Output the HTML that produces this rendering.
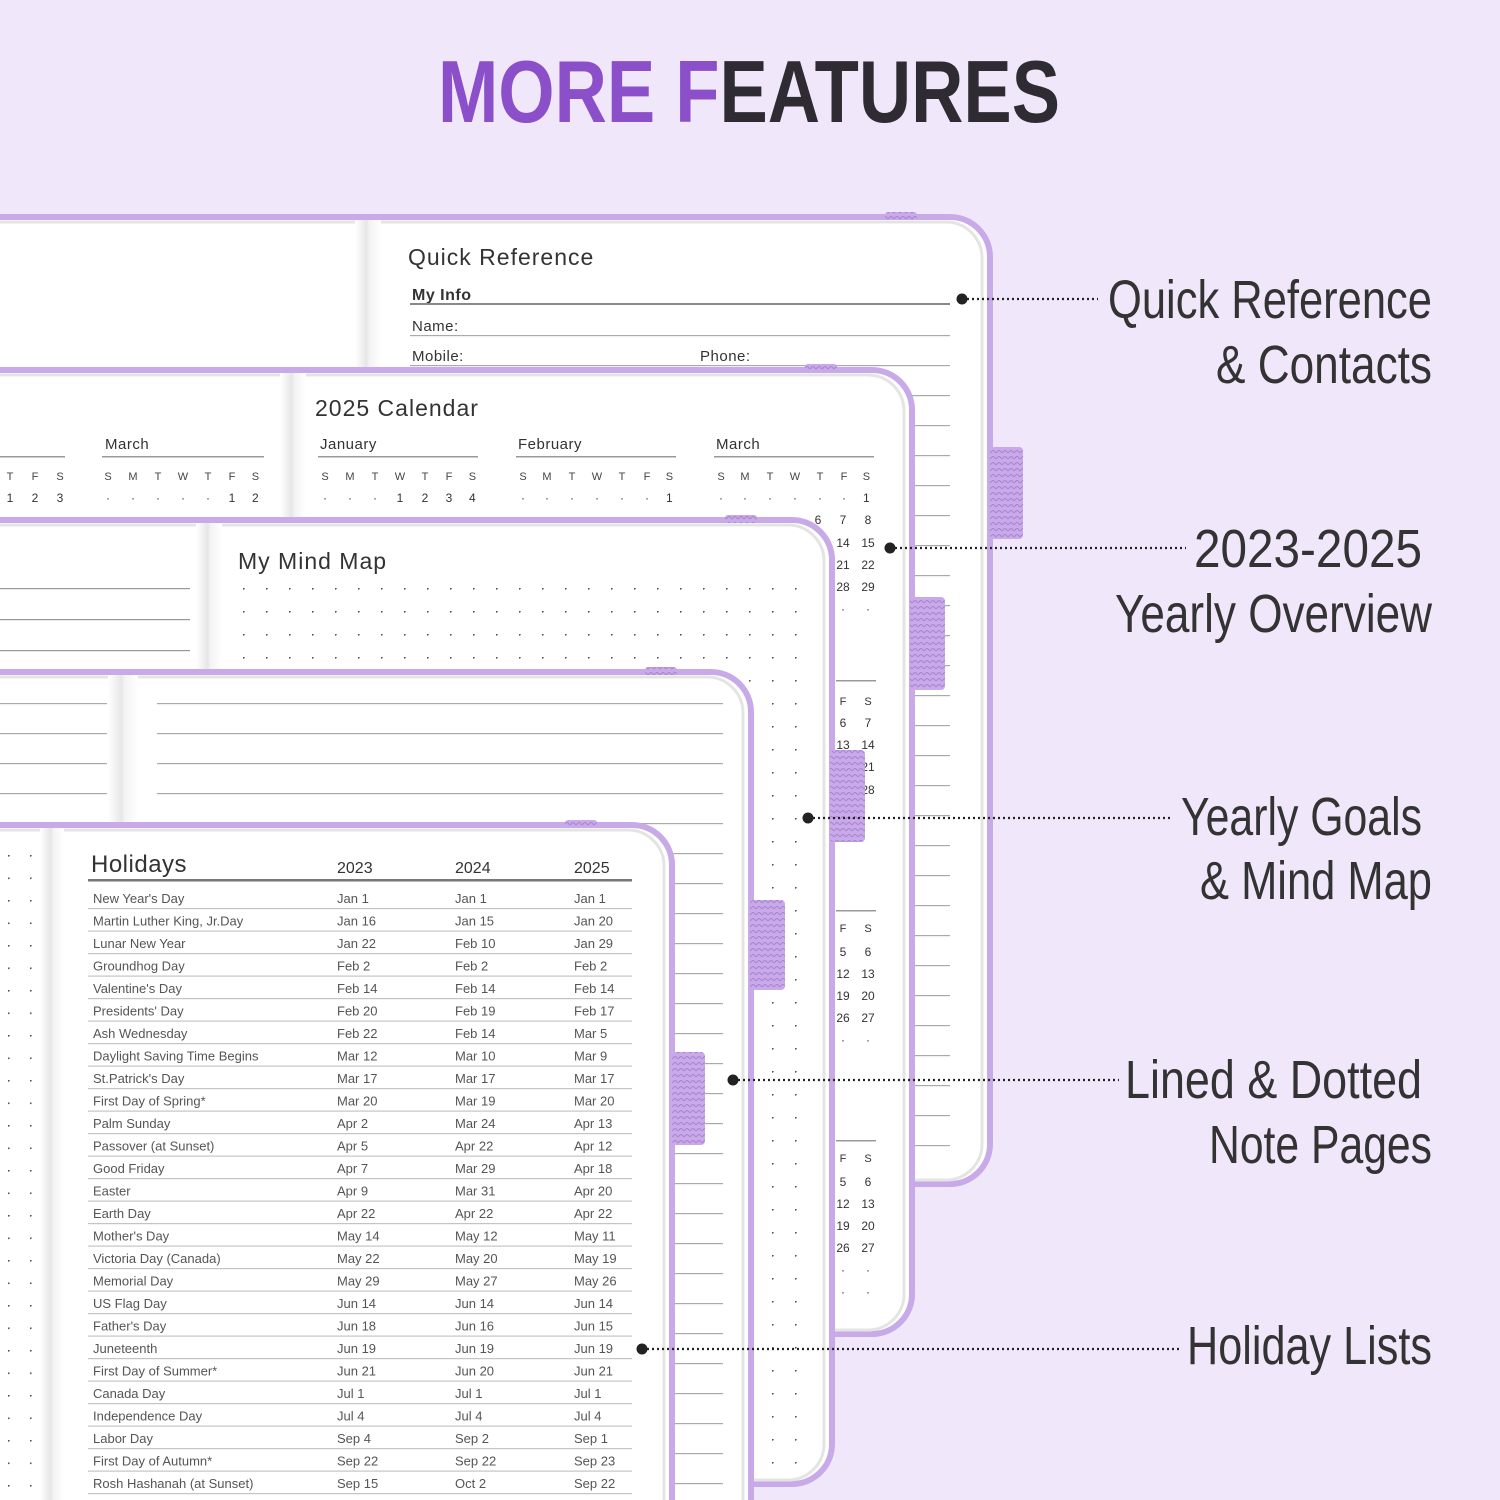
<!DOCTYPE html>
<html><head><meta charset="utf-8"><style>
html,body{margin:0;padding:0;background:#f1e7fa;width:1500px;height:1500px;overflow:hidden;}
svg{display:block;overflow:hidden}
text{font-family:"Liberation Sans",sans-serif;}
</style></head><body>
<svg width="1500" height="1500" viewBox="0 0 1500 1500" xmlns="http://www.w3.org/2000/svg">
<defs>
<pattern id="dots" x="243" y="588" width="23" height="23" patternUnits="userSpaceOnUse"><circle cx="0.5" cy="0.5" r="1.2" fill="#555"/></pattern>
<pattern id="dots5" x="8" y="855" width="22" height="22.5" patternUnits="userSpaceOnUse"><circle cx="0.5" cy="0.5" r="1.2" fill="#555"/></pattern>
<pattern id="lines30" x="0" y="335" width="10" height="30" patternUnits="userSpaceOnUse"><rect x="0" y="0" width="10" height="1.2" fill="#aaa"/></pattern>
<pattern id="lines4" x="0" y="703" width="10" height="30" patternUnits="userSpaceOnUse"><rect x="0" y="0" width="10" height="1.2" fill="#aaa"/></pattern>
<pattern id="knit" width="6" height="6" patternUnits="userSpaceOnUse"><rect width="6" height="6" fill="#c9a9e8"/><path d="M0 3 L3 0 L6 3" stroke="#a884d2" stroke-width="1" fill="none"/></pattern>
<linearGradient id="spine" x1="0" x2="1" y1="0" y2="0"><stop offset="0" stop-color="#fff"/><stop offset="0.45" stop-color="#e6e6e6"/><stop offset="0.55" stop-color="#f3f3f3"/><stop offset="1" stop-color="#fff"/></linearGradient>
</defs>

<text x="438" y="122" font-size="88" font-weight="bold" textLength="622" lengthAdjust="spacingAndGlyphs"><tspan fill="#8a4fc9">MORE F</tspan><tspan fill="#2f2b33">EATURES</tspan></text>

<rect x="-40" y="217" width="1030" height="967" rx="40" fill="#fff" stroke="#c8aae8" stroke-width="6"/>
<rect x="-40" y="222" width="1022" height="958" rx="36" fill="none" stroke="#e4e4e4" stroke-width="3"/>
<rect x="355" y="220" width="26" height="150" fill="url(#spine)"/>
<rect x="885" y="212" width="32" height="8" rx="3" fill="url(#knit)"/>
<text x="408" y="265" font-size="23" fill="#333" letter-spacing="1">Quick Reference</text>
<text x="412" y="300" font-size="16" font-weight="bold" fill="#333" letter-spacing="0.5">My Info</text>
<rect x="410" y="303" width="540" height="2" fill="#888"/>
<text x="412" y="331" font-size="15" fill="#333" letter-spacing="0.5">Name:</text>
<text x="412" y="361" font-size="15" fill="#333" letter-spacing="0.5">Mobile:</text>
<text x="700" y="361" font-size="15" fill="#333" letter-spacing="0.5">Phone:</text>
<rect x="410" y="335" width="540" height="840" fill="url(#lines30)"/>
<rect x="990" y="447" width="33" height="92" rx="4" fill="url(#knit)"/>

<rect x="-40" y="370" width="952" height="964" rx="40" fill="#fff" stroke="#c8aae8" stroke-width="6"/>
<rect x="-40" y="375" width="944" height="955" rx="36" fill="none" stroke="#e4e4e4" stroke-width="3"/>
<rect x="280" y="373" width="26" height="150" fill="url(#spine)"/>
<rect x="805" y="364" width="32" height="8" rx="3" fill="url(#knit)"/>
<g fill="#333">
<text x="315" y="416" font-size="23" letter-spacing="1">2025 Calendar</text>
<text x="320" y="449" font-size="15" letter-spacing="0.5">January</text>
<text x="518" y="449" font-size="15" letter-spacing="0.5">February</text>
<text x="716" y="449" font-size="15" letter-spacing="0.5">March</text>
<text x="105" y="449" font-size="15" letter-spacing="0.5">March</text>
</g>
<g fill="#999"><rect x="318" y="456" width="160" height="1.5"/><rect x="516" y="456" width="160" height="1.5"/><rect x="714" y="456" width="160" height="1.5"/><rect x="102" y="456" width="162" height="1.5"/><rect x="0" y="456" width="65" height="1.5"/>
<rect x="836" y="680" width="40" height="1.5"/><rect x="836" y="910" width="40" height="1.5"/><rect x="836" y="1140" width="40" height="1.5"/></g>
<g font-size="11" fill="#444" text-anchor="middle">
<text y="480"><tspan x="325">S</tspan><tspan x="350">M</tspan><tspan x="375">T</tspan><tspan x="400">W</tspan><tspan x="425">T</tspan><tspan x="449">F</tspan><tspan x="474">S</tspan>
<tspan x="523">S</tspan><tspan x="547">M</tspan><tspan x="572">T</tspan><tspan x="597">W</tspan><tspan x="622">T</tspan><tspan x="647">F</tspan><tspan x="671">S</tspan>
<tspan x="721">S</tspan><tspan x="745">M</tspan><tspan x="770">T</tspan><tspan x="795">W</tspan><tspan x="820">T</tspan><tspan x="844">F</tspan><tspan x="868">S</tspan>
<tspan x="108">S</tspan><tspan x="133">M</tspan><tspan x="158">T</tspan><tspan x="183">W</tspan><tspan x="208">T</tspan><tspan x="232">F</tspan><tspan x="257">S</tspan>
<tspan x="10">T</tspan><tspan x="35">F</tspan><tspan x="60">S</tspan></text>
</g>
<g font-size="12" fill="#333" text-anchor="middle">
<text y="502"><tspan x="325">·</tspan><tspan x="350">·</tspan><tspan x="375">·</tspan><tspan x="400">1</tspan><tspan x="425">2</tspan><tspan x="449">3</tspan><tspan x="474">4</tspan>
<tspan x="523">·</tspan><tspan x="547">·</tspan><tspan x="572">·</tspan><tspan x="597">·</tspan><tspan x="622">·</tspan><tspan x="647">·</tspan><tspan x="671">1</tspan>
<tspan x="721">·</tspan><tspan x="745">·</tspan><tspan x="770">·</tspan><tspan x="795">·</tspan><tspan x="820">·</tspan><tspan x="844">·</tspan><tspan x="868">1</tspan>
<tspan x="108">·</tspan><tspan x="133">·</tspan><tspan x="158">·</tspan><tspan x="183">·</tspan><tspan x="208">·</tspan><tspan x="232">1</tspan><tspan x="257">2</tspan>
<tspan x="10">1</tspan><tspan x="35">2</tspan><tspan x="60">3</tspan></text>
<text y="524"><tspan x="818">6</tspan><tspan x="843">7</tspan><tspan x="868">8</tspan></text>
<text y="547"><tspan x="843">14</tspan><tspan x="868">15</tspan></text>
<text y="569"><tspan x="843">21</tspan><tspan x="868">22</tspan></text>
<text y="591"><tspan x="843">28</tspan><tspan x="868">29</tspan></text>
<text y="613"><tspan x="843">·</tspan><tspan x="868">·</tspan></text>
<text y="705" font-size="11"><tspan x="843">F</tspan><tspan x="868">S</tspan></text>
<text y="727"><tspan x="843">6</tspan><tspan x="868">7</tspan></text>
<text y="749"><tspan x="843">13</tspan><tspan x="868">14</tspan></text>
<text y="771"><tspan x="843">20</tspan><tspan x="868">21</tspan></text>
<text y="794"><tspan x="843">27</tspan><tspan x="868">28</tspan></text>
<text y="932" font-size="11"><tspan x="843">F</tspan><tspan x="868">S</tspan></text>
<text y="956"><tspan x="843">5</tspan><tspan x="868">6</tspan></text>
<text y="978"><tspan x="843">12</tspan><tspan x="868">13</tspan></text>
<text y="1000"><tspan x="843">19</tspan><tspan x="868">20</tspan></text>
<text y="1022"><tspan x="843">26</tspan><tspan x="868">27</tspan></text>
<text y="1044"><tspan x="843">·</tspan><tspan x="868">·</tspan></text>
<text y="1162" font-size="11"><tspan x="843">F</tspan><tspan x="868">S</tspan></text>
<text y="1186"><tspan x="843">5</tspan><tspan x="868">6</tspan></text>
<text y="1208"><tspan x="843">12</tspan><tspan x="868">13</tspan></text>
<text y="1230"><tspan x="843">19</tspan><tspan x="868">20</tspan></text>
<text y="1252"><tspan x="843">26</tspan><tspan x="868">27</tspan></text>
<text y="1274"><tspan x="843">·</tspan><tspan x="868">·</tspan></text>
<text y="1296"><tspan x="843">·</tspan><tspan x="868">·</tspan></text>
</g>
<rect x="910" y="597" width="35" height="93" rx="4" fill="url(#knit)"/>

<rect x="-40" y="520" width="872" height="964" rx="40" fill="#fff" stroke="#c8aae8" stroke-width="6"/>
<rect x="-40" y="525" width="864" height="955" rx="36" fill="none" stroke="#e4e4e4" stroke-width="3"/>
<rect x="196" y="523" width="26" height="150" fill="url(#spine)"/>
<rect x="725" y="515" width="32" height="8" rx="3" fill="url(#knit)"/>
<text x="238" y="569" font-size="23" fill="#333" letter-spacing="1">My Mind Map</text>
<rect x="241" y="586" width="560" height="890" fill="url(#dots)"/>
<g fill="#999"><rect x="0" y="588" width="190" height="1.2"/><rect x="0" y="619" width="190" height="1.2"/><rect x="0" y="650" width="190" height="1.2"/></g>
<rect x="830" y="750" width="35" height="92" rx="4" fill="url(#knit)"/>

<rect x="-40" y="672" width="791" height="900" rx="40" fill="#fff" stroke="#c8aae8" stroke-width="6"/>
<rect x="-40" y="677" width="783" height="900" rx="36" fill="none" stroke="#e4e4e4" stroke-width="3"/>
<rect x="108" y="675" width="30" height="155" fill="url(#spine)"/>
<rect x="645" y="667" width="32" height="8" rx="3" fill="url(#knit)"/>
<rect x="157" y="703" width="566" height="797" fill="url(#lines4)"/>
<rect x="0" y="703" width="107" height="100" fill="url(#lines4)"/>
<rect x="750" y="900" width="35" height="90" rx="4" fill="url(#knit)"/>

<rect x="-40" y="825" width="712" height="800" rx="40" fill="#fff" stroke="#c8aae8" stroke-width="6"/>
<rect x="-40" y="830" width="704" height="800" rx="36" fill="none" stroke="#e4e4e4" stroke-width="3"/>
<rect x="40" y="828" width="24" height="672" fill="url(#spine)"/>
<rect x="565" y="820" width="32" height="8" rx="3" fill="url(#knit)"/>
<rect x="6" y="853" width="30" height="647" fill="url(#dots5)"/>
<text x="91" y="872" font-size="24" fill="#333" letter-spacing="0.5">Holidays</text>
<g font-size="16" fill="#333"><text x="337" y="873">2023</text><text x="455" y="873">2024</text><text x="574" y="873">2025</text></g>
<rect x="88" y="879" width="544" height="2.5" fill="#777"/>
<g fill="#c4c4c4">
<rect x="88" y="908" width="544" height="1.2"/><rect x="88" y="930.5" width="544" height="1.2"/><rect x="88" y="953" width="544" height="1.2"/><rect x="88" y="975.5" width="544" height="1.2"/><rect x="88" y="998" width="544" height="1.2"/><rect x="88" y="1020.5" width="544" height="1.2"/><rect x="88" y="1043" width="544" height="1.2"/><rect x="88" y="1065.5" width="544" height="1.2"/><rect x="88" y="1088" width="544" height="1.2"/><rect x="88" y="1110.5" width="544" height="1.2"/><rect x="88" y="1133" width="544" height="1.2"/><rect x="88" y="1155.5" width="544" height="1.2"/><rect x="88" y="1178" width="544" height="1.2"/><rect x="88" y="1200.5" width="544" height="1.2"/><rect x="88" y="1223" width="544" height="1.2"/><rect x="88" y="1245.5" width="544" height="1.2"/><rect x="88" y="1268" width="544" height="1.2"/><rect x="88" y="1290.5" width="544" height="1.2"/><rect x="88" y="1313" width="544" height="1.2"/><rect x="88" y="1335.5" width="544" height="1.2"/><rect x="88" y="1358" width="544" height="1.2"/><rect x="88" y="1380.5" width="544" height="1.2"/><rect x="88" y="1403" width="544" height="1.2"/><rect x="88" y="1425.5" width="544" height="1.2"/><rect x="88" y="1448" width="544" height="1.2"/><rect x="88" y="1470.5" width="544" height="1.2"/><rect x="88" y="1493" width="544" height="1.2"/>
</g>
<g font-size="13" fill="#555">
<text y="903"><tspan x="93">New Year's Day</tspan><tspan x="337">Jan 1</tspan><tspan x="455">Jan 1</tspan><tspan x="574">Jan 1</tspan></text>
<text y="925.5"><tspan x="93">Martin Luther King, Jr.Day</tspan><tspan x="337">Jan 16</tspan><tspan x="455">Jan 15</tspan><tspan x="574">Jan 20</tspan></text>
<text y="948"><tspan x="93">Lunar New Year</tspan><tspan x="337">Jan 22</tspan><tspan x="455">Feb 10</tspan><tspan x="574">Jan 29</tspan></text>
<text y="970.5"><tspan x="93">Groundhog Day</tspan><tspan x="337">Feb 2</tspan><tspan x="455">Feb 2</tspan><tspan x="574">Feb 2</tspan></text>
<text y="993"><tspan x="93">Valentine's Day</tspan><tspan x="337">Feb 14</tspan><tspan x="455">Feb 14</tspan><tspan x="574">Feb 14</tspan></text>
<text y="1015.5"><tspan x="93">Presidents' Day</tspan><tspan x="337">Feb 20</tspan><tspan x="455">Feb 19</tspan><tspan x="574">Feb 17</tspan></text>
<text y="1038"><tspan x="93">Ash Wednesday</tspan><tspan x="337">Feb 22</tspan><tspan x="455">Feb 14</tspan><tspan x="574">Mar 5</tspan></text>
<text y="1060.5"><tspan x="93">Daylight Saving Time Begins</tspan><tspan x="337">Mar 12</tspan><tspan x="455">Mar 10</tspan><tspan x="574">Mar 9</tspan></text>
<text y="1083"><tspan x="93">St.Patrick's Day</tspan><tspan x="337">Mar 17</tspan><tspan x="455">Mar 17</tspan><tspan x="574">Mar 17</tspan></text>
<text y="1105.5"><tspan x="93">First Day of Spring*</tspan><tspan x="337">Mar 20</tspan><tspan x="455">Mar 19</tspan><tspan x="574">Mar 20</tspan></text>
<text y="1128"><tspan x="93">Palm Sunday</tspan><tspan x="337">Apr 2</tspan><tspan x="455">Mar 24</tspan><tspan x="574">Apr 13</tspan></text>
<text y="1150.5"><tspan x="93">Passover (at Sunset)</tspan><tspan x="337">Apr 5</tspan><tspan x="455">Apr 22</tspan><tspan x="574">Apr 12</tspan></text>
<text y="1173"><tspan x="93">Good Friday</tspan><tspan x="337">Apr 7</tspan><tspan x="455">Mar 29</tspan><tspan x="574">Apr 18</tspan></text>
<text y="1195.5"><tspan x="93">Easter</tspan><tspan x="337">Apr 9</tspan><tspan x="455">Mar 31</tspan><tspan x="574">Apr 20</tspan></text>
<text y="1218"><tspan x="93">Earth Day</tspan><tspan x="337">Apr 22</tspan><tspan x="455">Apr 22</tspan><tspan x="574">Apr 22</tspan></text>
<text y="1240.5"><tspan x="93">Mother's Day</tspan><tspan x="337">May 14</tspan><tspan x="455">May 12</tspan><tspan x="574">May 11</tspan></text>
<text y="1263"><tspan x="93">Victoria Day (Canada)</tspan><tspan x="337">May 22</tspan><tspan x="455">May 20</tspan><tspan x="574">May 19</tspan></text>
<text y="1285.5"><tspan x="93">Memorial Day</tspan><tspan x="337">May 29</tspan><tspan x="455">May 27</tspan><tspan x="574">May 26</tspan></text>
<text y="1308"><tspan x="93">US Flag Day</tspan><tspan x="337">Jun 14</tspan><tspan x="455">Jun 14</tspan><tspan x="574">Jun 14</tspan></text>
<text y="1330.5"><tspan x="93">Father's Day</tspan><tspan x="337">Jun 18</tspan><tspan x="455">Jun 16</tspan><tspan x="574">Jun 15</tspan></text>
<text y="1353"><tspan x="93">Juneteenth</tspan><tspan x="337">Jun 19</tspan><tspan x="455">Jun 19</tspan><tspan x="574">Jun 19</tspan></text>
<text y="1375.5"><tspan x="93">First Day of Summer*</tspan><tspan x="337">Jun 21</tspan><tspan x="455">Jun 20</tspan><tspan x="574">Jun 21</tspan></text>
<text y="1398"><tspan x="93">Canada Day</tspan><tspan x="337">Jul 1</tspan><tspan x="455">Jul 1</tspan><tspan x="574">Jul 1</tspan></text>
<text y="1420.5"><tspan x="93">Independence Day</tspan><tspan x="337">Jul 4</tspan><tspan x="455">Jul 4</tspan><tspan x="574">Jul 4</tspan></text>
<text y="1443"><tspan x="93">Labor Day</tspan><tspan x="337">Sep 4</tspan><tspan x="455">Sep 2</tspan><tspan x="574">Sep 1</tspan></text>
<text y="1465.5"><tspan x="93">First Day of Autumn*</tspan><tspan x="337">Sep 22</tspan><tspan x="455">Sep 22</tspan><tspan x="574">Sep 23</tspan></text>
<text y="1488"><tspan x="93">Rosh Hashanah (at Sunset)</tspan><tspan x="337">Sep 15</tspan><tspan x="455">Oct 2</tspan><tspan x="574">Sep 22</tspan></text>
</g>
<rect x="672" y="1052" width="33" height="93" rx="4" fill="url(#knit)"/>

<g stroke="#222" stroke-width="2.2" stroke-dasharray="2 3" fill="none">
<line x1="962" y1="299" x2="1098" y2="299"/>
<line x1="890" y1="548" x2="1186" y2="548"/>
<line x1="808" y1="818" x2="1173" y2="818"/>
<line x1="733" y1="1080" x2="1119" y2="1080"/>
<line x1="642" y1="1349" x2="1180" y2="1349"/>
</g>
<g fill="#222"><circle cx="962" cy="299" r="5.5"/><circle cx="890" cy="548" r="5.5"/><circle cx="808" cy="818" r="5.5"/><circle cx="733" cy="1080" r="5.5"/><circle cx="642" cy="1349" r="5.5"/></g>

<g font-size="54" fill="#333" text-anchor="end">
<text x="1432" y="318" textLength="324" lengthAdjust="spacingAndGlyphs">Quick Reference</text>
<text x="1432" y="383" textLength="216" lengthAdjust="spacingAndGlyphs">&amp; Contacts</text>
<text x="1422" y="567" textLength="228" lengthAdjust="spacingAndGlyphs">2023-2025</text>
<text x="1432" y="632" textLength="317" lengthAdjust="spacingAndGlyphs">Yearly Overview</text>
<text x="1422" y="835" textLength="241" lengthAdjust="spacingAndGlyphs">Yearly Goals</text>
<text x="1432" y="899" textLength="232" lengthAdjust="spacingAndGlyphs">&amp; Mind Map</text>
<text x="1422" y="1098" textLength="297" lengthAdjust="spacingAndGlyphs">Lined &amp; Dotted</text>
<text x="1432" y="1163" textLength="223" lengthAdjust="spacingAndGlyphs">Note Pages</text>
<text x="1432" y="1364" textLength="245" lengthAdjust="spacingAndGlyphs">Holiday Lists</text>
</g>
</svg>
</body></html>
